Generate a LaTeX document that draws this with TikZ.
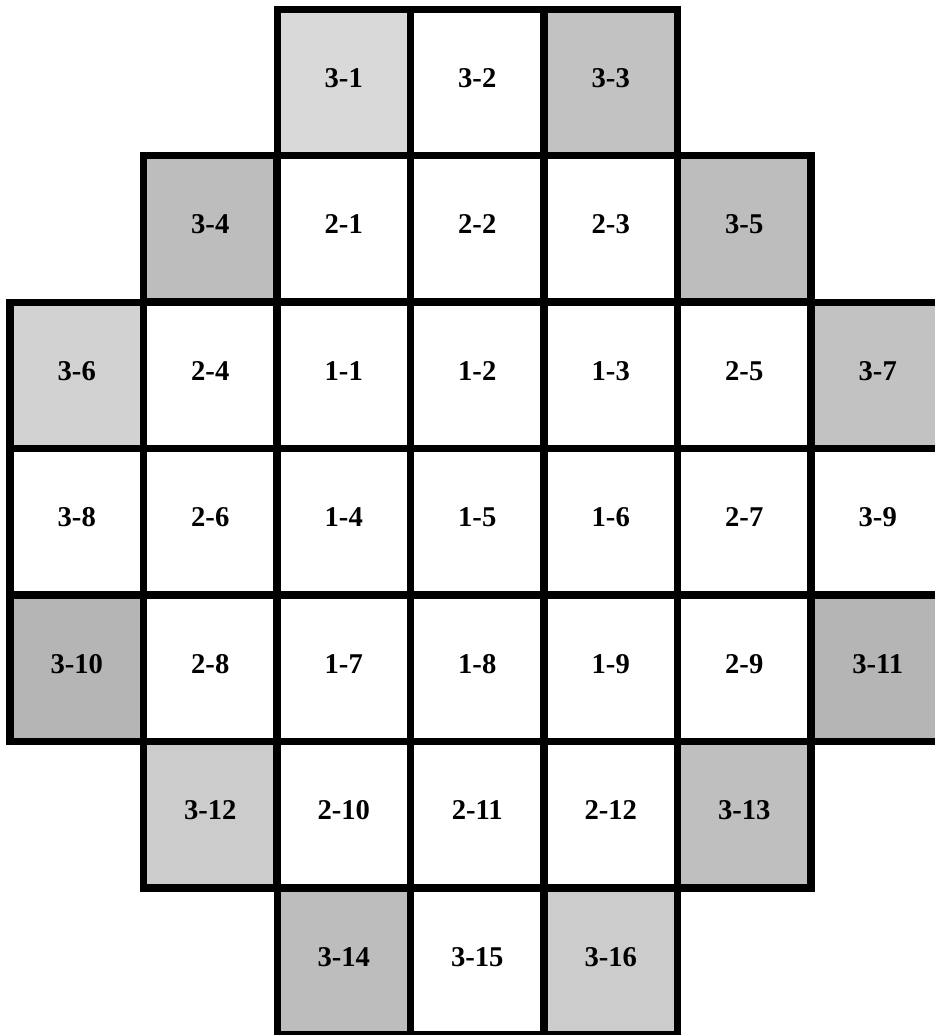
\documentclass[tikz,border=0pt]{standalone}
\usepackage{fontspec}
\setmainfont{Liberation Serif}
\usepackage{xcolor}
\usetikzlibrary{positioning}

\tikzset{
  cell/.style={rectangle, draw, line width=4pt, inner sep=0pt,
    minimum width=2.67cm, minimum height=2.93cm, text depth=0.18cm,
    font=\bfseries\fontsize{16.3}{19}\selectfont},
  blank/.style={cell, fill=white},
  shade/.style={cell, fill=gray!#1},
  shade/.default=50
}

\begin{document}
\begin{tikzpicture}[x=0.02cm, y=-0.02cm]
    \useasboundingbox (0,0) rectangle (935,1035);

    % Outer ring, top
    \node[shade=30] (c31) at (343.75,82.25) {3-1};
    \node[blank] (c32) at (477.25,82.25) {3-2};
    \node[shade=48] (c33) at (610.75,82.25) {3-3};

    % Second row
    \node[shade=52] (c34) at (210.25,228.75) {3-4};
    \node[blank] (c21) at (343.75,228.75) {2-1};
    \node[blank] (c22) at (477.25,228.75) {2-2};
    \node[blank] (c23) at (610.75,228.75) {2-3};
    \node[shade=52] (c35) at (744.25,228.75) {3-5};

    % Third row
    \node[shade=35] (c36) at (76.75,375.25) {3-6};
    \node[blank] (c24) at (210.25,375.25) {2-4};
    \node[blank] (c11) at (343.75,375.25) {1-1};
    \node[blank] (c12) at (477.25,375.25) {1-2};
    \node[blank] (c13) at (610.75,375.25) {1-3};
    \node[blank] (c25) at (744.25,375.25) {2-5};
    \node[shade=48] (c37) at (877.75,375.25) {3-7};

    % Middle row
    \node[blank] (c38) at (76.75,521.75) {3-8};
    \node[blank] (c26) at (210.25,521.75) {2-6};
    \node[blank] (c14) at (343.75,521.75) {1-4};
    \node[blank] (c15) at (477.25,521.75) {1-5};
    \node[blank] (c16) at (610.75,521.75) {1-6};
    \node[blank] (c27) at (744.25,521.75) {2-7};
    \node[blank] (c39) at (877.75,521.75) {3-9};

    % Fifth row
    \node[shade=58] (c310) at (76.75,668.25) {3-10};
    \node[blank] (c28) at (210.25,668.25) {2-8};
    \node[blank] (c17) at (343.75,668.25) {1-7};
    \node[blank] (c18) at (477.25,668.25) {1-8};
    \node[blank] (c19) at (610.75,668.25) {1-9};
    \node[blank] (c29) at (744.25,668.25) {2-9};
    \node[shade=58] (c311) at (877.75,668.25) {3-11};

    % Sixth row
    \node[shade=40] (c312) at (210.25,814.75) {3-12};
    \node[blank] (c210) at (343.75,814.75) {2-10};
    \node[blank] (c211) at (477.25,814.75) {2-11};
    \node[blank] (c212) at (610.75,814.75) {2-12};
    \node[shade=50] (c313) at (744.25,814.75) {3-13};

    % Outer ring, bottom
    \node[shade=52] (c314) at (343.75,961.25) {3-14};
    \node[blank] (c315) at (477.25,961.25) {3-15};
    \node[shade=40] (c316) at (610.75,961.25) {3-16};
\end{tikzpicture}
\end{document}
